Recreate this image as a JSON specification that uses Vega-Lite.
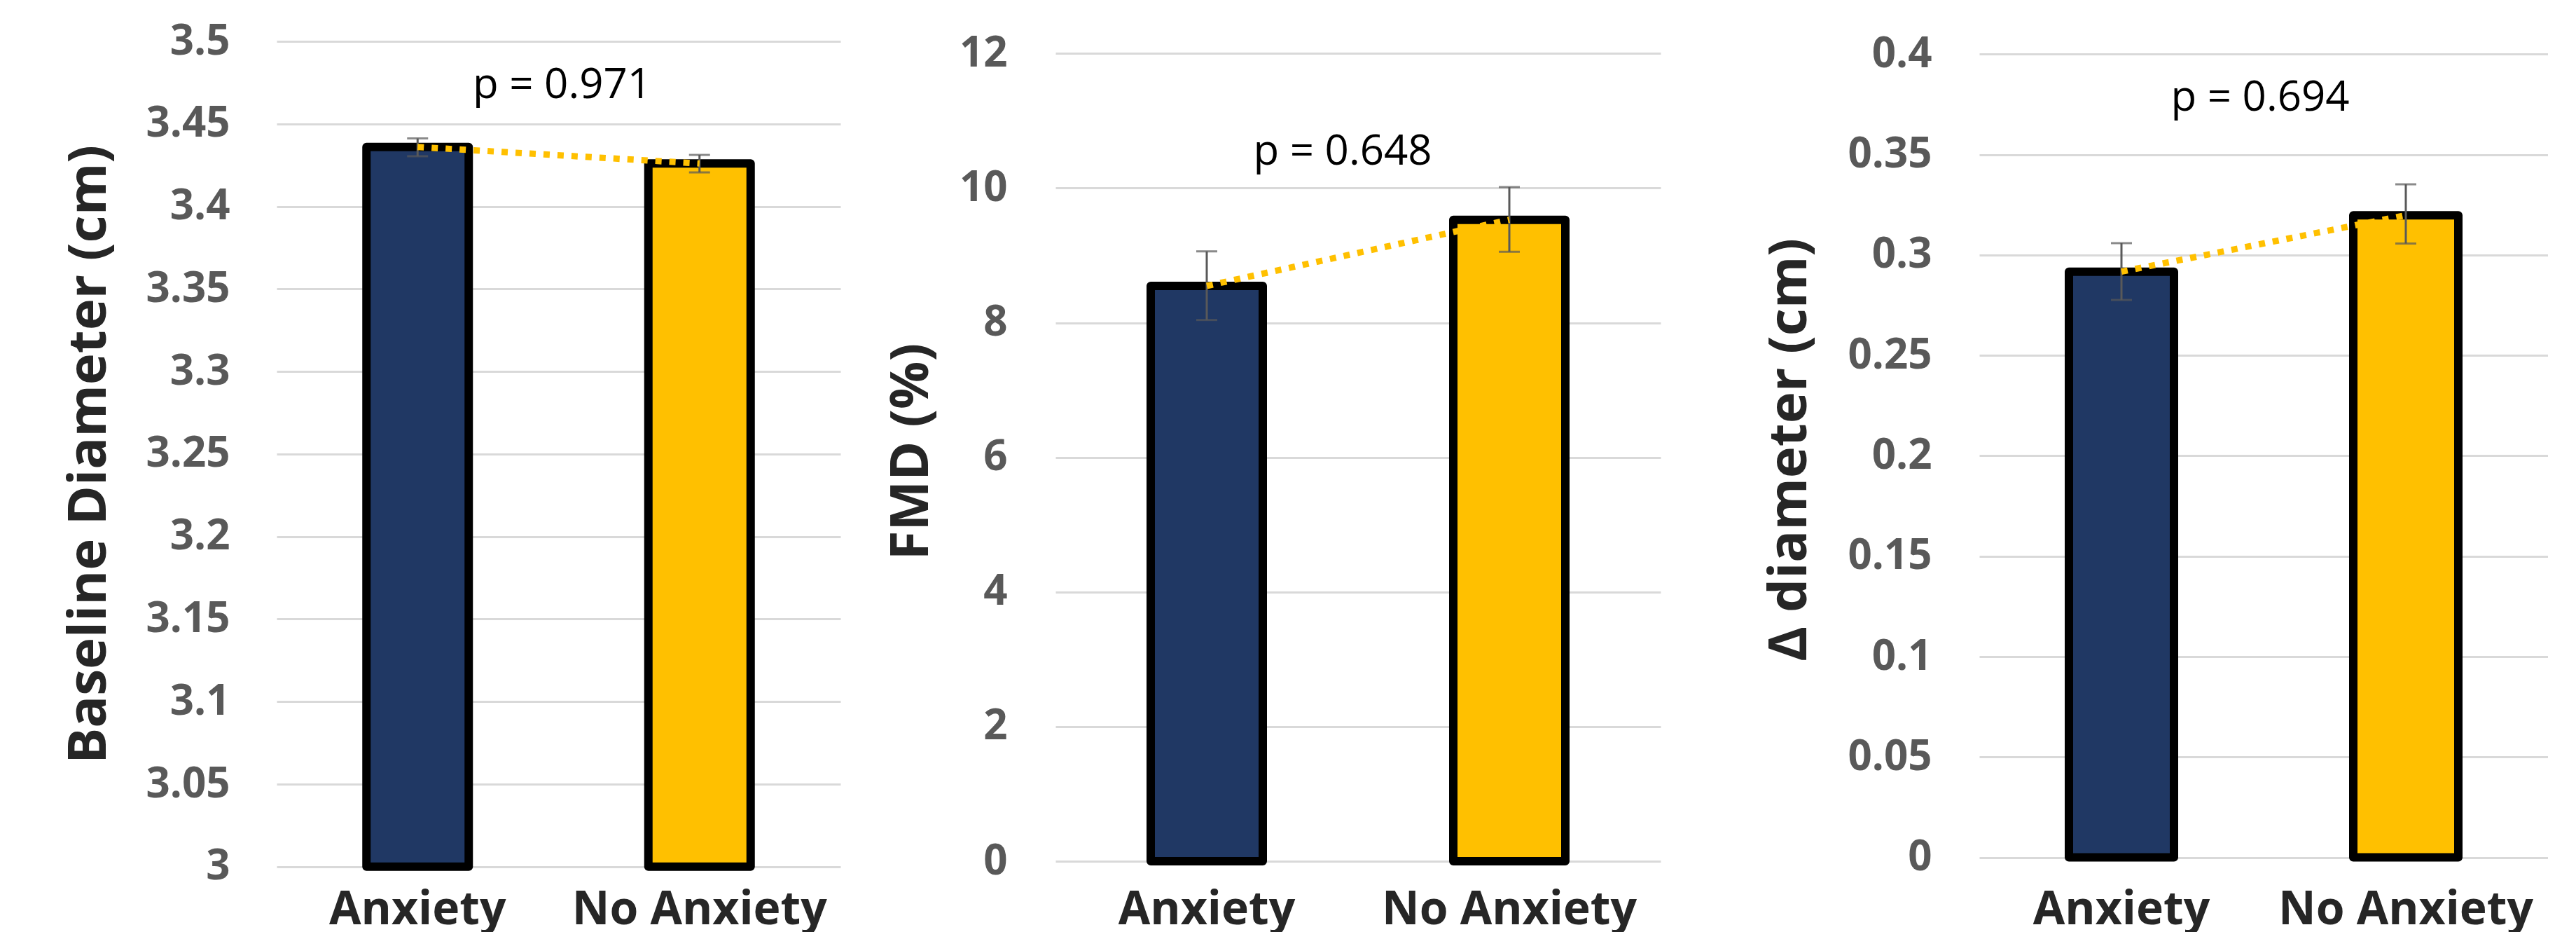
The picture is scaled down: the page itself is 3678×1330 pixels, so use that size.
{
  "$schema": "https://vega.github.io/schema/vega-lite/v6.json",
  "background": "white",
  "padding": {"left": 89, "top": 29, "right": 0, "bottom": 0},
  "spacing": 0,
  "bounds": "flush",
  "config": {
    "view": {"stroke": null},
    "font": "Open Sans",
    "axis": {"domain": false, "ticks": false, "labelFont": "Open Sans", "labelFontWeight": "bold", "titleFont": "Open Sans", "titleFontWeight": "bold", "gridColor": "#D9D9D9", "gridWidth": 3, "labelLimit": 0},
    "axisY": {"labelFontSize": 60, "labelColor": "#595959", "titleFontSize": 76, "titleColor": "#262626", "titleAngle": -90, "titleBaseline": "middle", "grid": true},
    "axisX": {"labelFontSize": 66, "labelColor": "#262626", "labelAngle": 0, "grid": false}
  },
  "datasets": {
    "baseline": [
      {"group": "Anxiety", "mean": 3.436, "lo": 3.4304, "hi": 3.4412},
      {"group": "No Anxiety", "mean": 3.426, "lo": 3.4206, "hi": 3.4312}
    ],
    "fmd": [
      {"group": "Anxiety", "mean": 8.547, "lo": 8.04, "hi": 9.06},
      {"group": "No Anxiety", "mean": 9.529, "lo": 9.054, "hi": 10.015}
    ],
    "delta": [
      {"group": "Anxiety", "mean": 0.2917, "lo": 0.2776, "hi": 0.3059},
      {"group": "No Anxiety", "mean": 0.3198, "lo": 0.3057, "hi": 0.3352}
    ]
  },
  "hconcat": [
    {
      "width": 805, "height": 1177.8,
      "layer": [
        {
          "data": {"name": "baseline"},
          "mark": {"type": "bar", "size": 146, "stroke": "black", "strokeWidth": 12, "strokeJoin": "round"},
          "encoding": {
            "x": {"field": "group", "type": "nominal", "sort": ["Anxiety", "No Anxiety"], "scale": {"paddingInner": 0, "paddingOuter": 0}, "axis": {"title": null, "labelPadding": 30}},
            "y": {"field": "mean", "type": "quantitative", "title": "Baseline Diameter (cm)", "scale": {"domain": [3, 3.5], "nice": false, "zero": false}, "axis": {"values": [3, 3.05, 3.1, 3.15, 3.2, 3.25, 3.3, 3.35, 3.4, 3.45, 3.5], "format": "~g", "labelPadding": 67, "titleX": -268}},
            "y2": {"datum": 3},
            "fill": {"field": "group", "type": "nominal", "scale": {"domain": ["Anxiety", "No Anxiety"], "range": ["#203864", "#FFC000"]}, "legend": null}
          }
        },
        {
          "data": {"name": "baseline"},
          "mark": {"type": "rule", "color": "#595959", "strokeWidth": 3},
          "encoding": {
            "x": {"field": "group", "type": "nominal", "sort": ["Anxiety", "No Anxiety"]},
            "y": {"field": "lo", "type": "quantitative", "title": "Baseline Diameter (cm)"},
            "y2": {"field": "hi"}
          }
        },
        {
          "data": {"name": "baseline"},
          "mark": {"type": "tick", "color": "#595959", "thickness": 3, "size": 30, "orient": "horizontal"},
          "encoding": {
            "x": {"field": "group", "type": "nominal", "sort": ["Anxiety", "No Anxiety"]},
            "y": {"field": "lo", "type": "quantitative", "title": "Baseline Diameter (cm)"}
          }
        },
        {
          "data": {"name": "baseline"},
          "mark": {"type": "tick", "color": "#595959", "thickness": 3, "size": 30, "orient": "horizontal"},
          "encoding": {
            "x": {"field": "group", "type": "nominal", "sort": ["Anxiety", "No Anxiety"]},
            "y": {"field": "hi", "type": "quantitative", "title": "Baseline Diameter (cm)"}
          }
        },
        {
          "data": {"name": "baseline"},
          "mark": {"type": "line", "color": "#FFC000", "strokeWidth": 9, "strokeDash": [9, 11]},
          "encoding": {
            "x": {"field": "group", "type": "nominal", "sort": ["Anxiety", "No Anxiety"]},
            "y": {"field": "mean", "type": "quantitative", "title": "Baseline Diameter (cm)"}
          }
        },
        {
          "data": {"values": [{"label": "p = 0.971"}]},
          "mark": {"type": "text", "font": "Open Sans", "fontSize": 60, "color": "black", "baseline": "alphabetic", "align": "center", "dx": 5},
          "encoding": {
            "text": {"field": "label", "type": "nominal"},
            "y": {"datum": 3.4655, "type": "quantitative"}
          }
        }
      ]
    },
    {"width": 307, "height": 10, "data": {"values": []}, "mark": "point"},
    {
      "width": 864, "height": 1170,
      "layer": [
        {
          "data": {"name": "fmd"},
          "mark": {"type": "bar", "size": 160, "stroke": "black", "strokeWidth": 12, "strokeJoin": "round"},
          "encoding": {
            "x": {"field": "group", "type": "nominal", "sort": ["Anxiety", "No Anxiety"], "scale": {"paddingInner": 0, "paddingOuter": 0}, "axis": {"title": null, "labelPadding": 37}},
            "y": {"field": "mean", "type": "quantitative", "title": "FMD (%)", "scale": {"domain": [0, 12.18], "nice": false}, "axis": {"values": [0, 2, 4, 6, 8, 10, 12], "format": "~g", "labelPadding": 69, "titleX": -206}},
            "fill": {"field": "group", "type": "nominal", "scale": {"domain": ["Anxiety", "No Anxiety"], "range": ["#203864", "#FFC000"]}, "legend": null}
          }
        },
        {
          "data": {"name": "fmd"},
          "mark": {"type": "rule", "color": "#595959", "strokeWidth": 3},
          "encoding": {
            "x": {"field": "group", "type": "nominal", "sort": ["Anxiety", "No Anxiety"]},
            "y": {"field": "lo", "type": "quantitative", "title": "FMD (%)"},
            "y2": {"field": "hi"}
          }
        },
        {
          "data": {"name": "fmd"},
          "mark": {"type": "tick", "color": "#595959", "thickness": 3, "size": 30, "orient": "horizontal"},
          "encoding": {
            "x": {"field": "group", "type": "nominal", "sort": ["Anxiety", "No Anxiety"]},
            "y": {"field": "lo", "type": "quantitative", "title": "FMD (%)"}
          }
        },
        {
          "data": {"name": "fmd"},
          "mark": {"type": "tick", "color": "#595959", "thickness": 3, "size": 30, "orient": "horizontal"},
          "encoding": {
            "x": {"field": "group", "type": "nominal", "sort": ["Anxiety", "No Anxiety"]},
            "y": {"field": "hi", "type": "quantitative", "title": "FMD (%)"}
          }
        },
        {
          "data": {"name": "fmd"},
          "mark": {"type": "line", "color": "#FFC000", "strokeWidth": 9, "strokeDash": [9, 11]},
          "encoding": {
            "x": {"field": "group", "type": "nominal", "sort": ["Anxiety", "No Anxiety"]},
            "y": {"field": "mean", "type": "quantitative", "title": "FMD (%)"}
          }
        },
        {
          "data": {"values": [{"label": "p = 0.648"}]},
          "mark": {"type": "text", "font": "Open Sans", "fontSize": 60, "color": "black", "baseline": "alphabetic", "align": "center", "dx": -22},
          "encoding": {
            "text": {"field": "label", "type": "nominal"},
            "y": {"datum": 10.345, "type": "quantitative"}
          }
        }
      ]
    },
    {"width": 455, "height": 10, "data": {"values": []}, "mark": "point"},
    {
      "width": 812, "height": 1164.6,
      "layer": [
        {
          "data": {"name": "delta"},
          "mark": {"type": "bar", "size": 150, "stroke": "black", "strokeWidth": 12, "strokeJoin": "round"},
          "encoding": {
            "x": {"field": "group", "type": "nominal", "sort": ["Anxiety", "No Anxiety"], "scale": {"paddingInner": 0, "paddingOuter": 0}, "axis": {"title": null, "labelPadding": 43}},
            "y": {"field": "mean", "type": "quantitative", "title": "Δ diameter (cm)", "scale": {"domain": [0, 0.40639], "nice": false}, "axis": {"values": [0, 0.05, 0.1, 0.15, 0.2, 0.25, 0.3, 0.35, 0.4], "format": "~g", "labelPadding": 68, "titleX": -271}},
            "fill": {"field": "group", "type": "nominal", "scale": {"domain": ["Anxiety", "No Anxiety"], "range": ["#203864", "#FFC000"]}, "legend": null}
          }
        },
        {
          "data": {"name": "delta"},
          "mark": {"type": "rule", "color": "#595959", "strokeWidth": 3},
          "encoding": {
            "x": {"field": "group", "type": "nominal", "sort": ["Anxiety", "No Anxiety"]},
            "y": {"field": "lo", "type": "quantitative", "title": "Δ diameter (cm)"},
            "y2": {"field": "hi"}
          }
        },
        {
          "data": {"name": "delta"},
          "mark": {"type": "tick", "color": "#595959", "thickness": 3, "size": 30, "orient": "horizontal"},
          "encoding": {
            "x": {"field": "group", "type": "nominal", "sort": ["Anxiety", "No Anxiety"]},
            "y": {"field": "lo", "type": "quantitative", "title": "Δ diameter (cm)"}
          }
        },
        {
          "data": {"name": "delta"},
          "mark": {"type": "tick", "color": "#595959", "thickness": 3, "size": 30, "orient": "horizontal"},
          "encoding": {
            "x": {"field": "group", "type": "nominal", "sort": ["Anxiety", "No Anxiety"]},
            "y": {"field": "hi", "type": "quantitative", "title": "Δ diameter (cm)"}
          }
        },
        {
          "data": {"name": "delta"},
          "mark": {"type": "line", "color": "#FFC000", "strokeWidth": 9, "strokeDash": [9, 11]},
          "encoding": {
            "x": {"field": "group", "type": "nominal", "sort": ["Anxiety", "No Anxiety"]},
            "y": {"field": "mean", "type": "quantitative", "title": "Δ diameter (cm)"}
          }
        },
        {
          "data": {"values": [{"label": "p = 0.694"}]},
          "mark": {"type": "text", "font": "Open Sans", "fontSize": 60, "color": "black", "baseline": "alphabetic", "align": "center", "dx": -5},
          "encoding": {
            "text": {"field": "label", "type": "nominal"},
            "y": {"datum": 0.3717, "type": "quantitative"}
          }
        }
      ]
    }
  ]
}
